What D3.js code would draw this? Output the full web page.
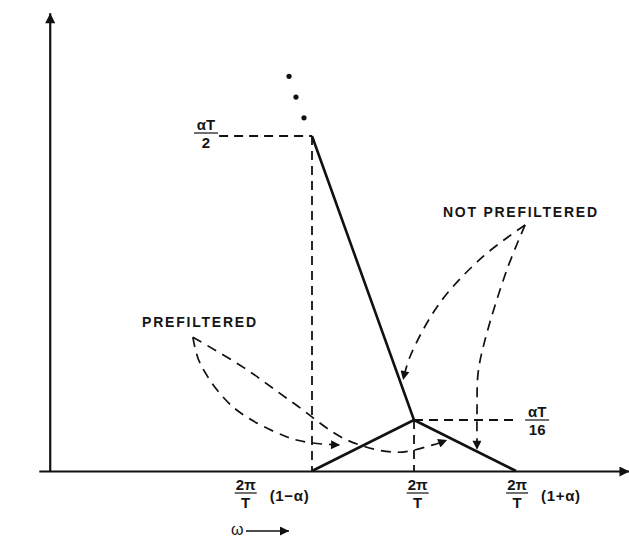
<!DOCTYPE html>
<html>
<head>
<meta charset="utf-8">
<script src="https://cdn.jsdelivr.net/npm/d3@7"></script>
<style>
body { margin: 0; background: #fff; }
text { font-family: "Liberation Sans", Arial, sans-serif; font-weight: bold; fill: #151515; }
</style>
</head>
<body>
<svg id="chart" width="629" height="546"></svg>
<script>
// frequency in units of 2pi/T, level in units of alpha*T
const alpha = 0.28
const omegaMax = 1.59
const levelMax = 0.69

// spectrum without prefilter: spike down to the peak, then down to zero
const notPrefOmega = [1 - alpha, 1, 1 + alpha]
const notPrefLevel = [1/2, 1/16, 0]
// spectrum with prefilter: rises from zero to the peak
const prefOmega = [1 - alpha, 1]
const prefLevel = [0, 1/16]

// ellipsis above the spike
const dotOmega = [0.657, 0.676, 0.698]
const dotLevel = [0.592, 0.560, 0.528]

// tick labels on the frequency axis (label offset in omega units)
const tickOmega = [1 - alpha, 1, 1 + alpha]
const tickShift = [-0.182, 0.01, 0.003]
const tickSuffix = ["(1\u2212\u03b1)", "", "(1+\u03b1)"]

// annotation arrows (omega, level)
const notPrefArrowA = [[1.305, 0.363], [1.189, 0.314], [1.071, 0.243], [0.989, 0.160], [0.970, 0.124]]
const notPrefArrowB = [[1.305, 0.363], [1.255, 0.294], [1.195, 0.186], [1.176, 0.135], [1.173, 0.078], [1.173, 0.026]]
const prefArrowA = [[0.393, 0.190], [0.5306, 0.144], [0.668, 0.089], [0.816, 0.038], [0.953, 0.023], [1.052, 0.032], [1.091, 0.038]]
const prefArrowB = [[0.393, 0.190], [0.4126, 0.150], [0.5032, 0.0825], [0.6514, 0.0417], [0.7227, 0.0343], [0.797, 0.0319]]

const svg = d3.select("#chart")

const x = d3.scaleLinear().domain([1 - alpha, 1 + alpha]).range([312, 516])
// the drawing is not to scale vertically: piecewise mapping
const y = d3.scaleLinear().domain([0, 1/16, 1/2]).range([471, 420, 136])

const defs = svg.append("defs")
function marker(id, w, h) {
    defs.append("marker")
        .attr("id", id)
        .attr("viewBox", "0 0 10 10")
        .attr("refX", 10).attr("refY", 5)
        .attr("markerUnits", "userSpaceOnUse")
        .attr("markerWidth", w).attr("markerHeight", h)
        .attr("orient", "auto")
        .append("path")
        .attr("d", "M0,0L10,5L0,10Z")
        .attr("fill", "#111")
}
marker("axisHead", 17, 10)
marker("noteHead", 13, 9)

// axes
const xAxisScale = d3.scaleLinear().domain([-0.03, omegaMax]).range([x(-0.03), x(omegaMax)])
const yAxisScale = d3.scaleLinear().domain([0, levelMax]).range([y(0), y(levelMax)])

const gx = svg.append("g")
    .attr("transform", "translate(0," + y(0) + ")")
    .call(d3.axisBottom(xAxisScale).tickValues([]).tickSizeOuter(0))
gx.select(".domain").attr("stroke", "#111").attr("stroke-width", 2.2).attr("marker-end", "url(#axisHead)")

const gy = svg.append("g")
    .attr("transform", "translate(" + x(0) + ",0)")
    .call(d3.axisLeft(yAxisScale).tickValues([]).tickSizeOuter(0))
gy.select(".domain").attr("stroke", "#111").attr("stroke-width", 2.2).attr("marker-end", "url(#axisHead)")

// dashed guides
const guides = [
    [[0.465, 1/2], [notPrefOmega[0], 1/2]],
    [[notPrefOmega[0], 1/2], [notPrefOmega[0], 0]],
    [[1, 1/16], [1, 0]],
    [[1, 1/16], [1.282, 1/16]]
]
svg.selectAll(".guide")
    .data(guides)
    .enter().append("line")
    .attr("class", "guide")
    .attr("x1", d => x(d[0][0])).attr("y1", d => y(d[0][1]))
    .attr("x2", d => x(d[1][0])).attr("y2", d => y(d[1][1]))
    .attr("stroke", "#111").attr("stroke-width", 1.8)
    .attr("stroke-dasharray", "9,6")

// spectrum lines
const line = d3.line().x(d => x(d[0])).y(d => y(d[1]))
svg.append("path")
    .datum(d3.zip(notPrefOmega, notPrefLevel))
    .attr("d", line)
    .attr("fill", "none").attr("stroke", "#111").attr("stroke-width", 2.6)
svg.append("path")
    .datum(d3.zip(prefOmega, prefLevel))
    .attr("d", line)
    .attr("fill", "none").attr("stroke", "#111").attr("stroke-width", 2.6)

svg.selectAll(".dot")
    .data(d3.zip(dotOmega, dotLevel))
    .enter().append("circle")
    .attr("class", "dot")
    .attr("cx", d => x(d[0])).attr("cy", d => y(d[1]))
    .attr("r", 2.6).attr("fill", "#111")

// annotation arrows
const curve = d3.line().x(d => x(d[0])).y(d => y(d[1])).curve(d3.curveCatmullRom.alpha(0.5))
svg.selectAll(".note")
    .data([notPrefArrowA, notPrefArrowB, prefArrowA, prefArrowB])
    .enter().append("path")
    .attr("class", "note")
    .attr("d", curve)
    .attr("fill", "none").attr("stroke", "#111").attr("stroke-width", 1.7)
    .attr("stroke-dasharray", "10,7")
    .attr("marker-end", "url(#noteHead)")

// fraction label helper
function fraction(cx, cy, top, bottom, size, half) {
    const g = svg.append("g").attr("transform", "translate(" + cx + "," + cy + ")")
    g.append("text").attr("text-anchor", "middle").attr("y", -3).style("font-size", size + "px").text(top)
    g.append("line").attr("x1", -half).attr("x2", half).attr("stroke", "#111").attr("stroke-width", 1.2)
    g.append("text").attr("text-anchor", "middle").attr("y", size - 0.5).style("font-size", size + "px").text(bottom)
    return g
}

fraction(x(0.429), y(1/2) - 3, "\u03b1T", "2", 15, 12)
fraction(x(1.338), y(1/16), "\u03b1T", "16", 15, 12)

tickOmega.forEach((w, i) => {
    fraction(x(w + tickShift[i]), y(0) + 22, "2\u03c0", "T", 15, 11)
    if (tickSuffix[i]) {
        svg.append("text")
            .attr("x", x(w + tickShift[i]) + 24)
            .attr("y", y(0) + 30)
            .attr("textLength", 39)
            .style("font-size", "15px")
            .text(tickSuffix[i])
    }
})

svg.append("text")
    .attr("x", x(1.291)).attr("y", y(0.383) + 5)
    .attr("text-anchor", "middle")
    .attr("textLength", 154)
    .style("font-size", "14px")
    .text("NOT PREFILTERED")

svg.append("text")
    .attr("x", x(0.41)).attr("y", y(0.2135) + 5)
    .attr("text-anchor", "middle")
    .attr("textLength", 114)
    .style("font-size", "14px")
    .text("PREFILTERED")

// omega axis title with arrow
svg.append("text")
    .attr("x", 231).attr("y", 535)
    .style("font-size", "16px").style("font-weight", "normal")
    .text("\u03c9")
svg.append("line")
    .attr("x1", 246).attr("y1", 531).attr("x2", 289).attr("y2", 531)
    .attr("stroke", "#111").attr("stroke-width", 1.6)
    .attr("marker-end", "url(#noteHead)")
</script>
</body>
</html>
